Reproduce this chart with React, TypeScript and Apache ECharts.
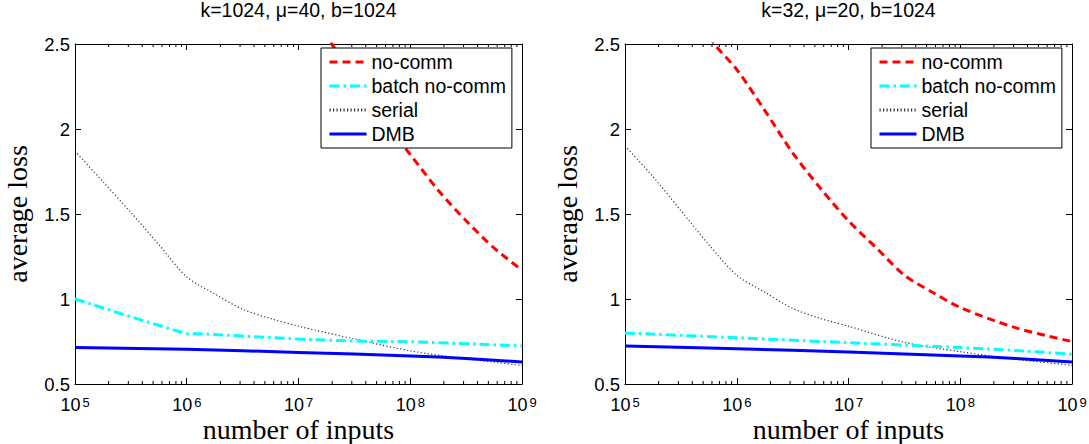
import React, { useEffect, useRef } from "react";
import * as echarts from "echarts";

// ---------- data (x as log10 of number of inputs) ----------
const panelTitles = ["k=1024, \u03bc=40, b=1024", "k=32, \u03bc=20, b=1024"];
const seriesNames = ["no-comm", "batch no-comm", "serial", "DMB"];
const yTicks = [0.5, 1, 1.5, 2, 2.5];
const decadeExps = [5, 6, 7, 8, 9];
const minorMultipliers = [2, 3, 4, 5, 6, 7, 8, 9];

// left panel: k=1024, mu=40
const noCommLeftX = [6.75, 7.0, 7.3, 7.5, 7.75, 8.0, 8.25, 8.5, 8.75, 9.0];
const noCommLeftY = [3.1, 2.84, 2.5, 2.29, 2.06, 1.85, 1.64, 1.46, 1.3, 1.17];
const batchLeftX = [5, 5.5, 6.0, 6.15, 6.5, 7.0, 7.5, 8.0, 8.5, 9.0];
const batchLeftY = [1.0, 0.895, 0.795, 0.795, 0.782, 0.764, 0.753, 0.749, 0.737, 0.724];
const serialLeftX = [5, 5.25, 5.5, 5.75, 6.0, 6.25, 6.5, 6.75, 7.0, 7.5, 8.0, 8.5, 9.0];
const serialLeftY = [1.87, 1.69, 1.51, 1.32, 1.13, 1.03, 0.94, 0.885, 0.84, 0.765, 0.695, 0.648, 0.61];
const dmbLeftX = [5, 6, 7, 8, 8.5, 9];
const dmbLeftY = [0.714, 0.704, 0.686, 0.665, 0.65, 0.63];

// right panel: k=32, mu=20
const noCommRightX = [5.5, 5.8, 6.0, 6.25, 6.5, 6.75, 7.0, 7.25, 7.5, 7.75, 8.0, 8.5, 9.0];
const noCommRightY = [2.8, 2.5, 2.35, 2.11, 1.86, 1.65, 1.46, 1.3, 1.14, 1.04, 0.95, 0.83, 0.75];
const batchRightX = [5, 6, 7, 8, 8.5, 9];
const batchRightY = [0.8, 0.772, 0.743, 0.714, 0.697, 0.675];
const serialRightX = [5, 5.25, 5.5, 5.75, 6.0, 6.25, 6.5, 6.75, 7.0, 7.5, 8.0, 8.5, 9.0];
const serialRightY = [1.9, 1.72, 1.52, 1.32, 1.14, 1.04, 0.945, 0.885, 0.84, 0.745, 0.69, 0.645, 0.61];
const dmbRightX = [5, 6, 7, 8, 8.5, 9];
const dmbRightY = [0.724, 0.707, 0.688, 0.665, 0.65, 0.629];

const panels = [
  {
    noComm: [noCommLeftX, noCommLeftY],
    batch: [batchLeftX, batchLeftY],
    serial: [serialLeftX, serialLeftY],
    dmb: [dmbLeftX, dmbLeftY],
  },
  {
    noComm: [noCommRightX, noCommRightY],
    batch: [batchRightX, batchRightY],
    serial: [serialRightX, serialRightY],
    dmb: [dmbRightX, dmbRightY],
  },
];

const SANS = "'Liberation Sans', Arial, Helvetica, sans-serif";
const SERIF = "'Liberation Serif', 'Times New Roman', serif";

function toPairs(xs: number[], ys: number[]) {
  return xs.map((e, i) => [Math.pow(10, e), ys[i]]);
}

const minorTickValues: number[] = [];
decadeExps.slice(0, -1).forEach((e) => {
  minorMultipliers.forEach((m) => minorTickValues.push(m * Math.pow(10, e)));
});

export default function App() {
  const ref = useRef<HTMLDivElement>(null);
  useEffect(() => {
    if (!ref.current) return;
    const chart = echarts.init(ref.current, undefined, { renderer: "svg" });
    const gridLefts = [75, 625];
    const grids = gridLefts.map((l) => ({
      left: l,
      top: 44,
      width: 447,
      height: 340,
      containLabel: false,
      outerBoundsMode: "none",
    }));

    const xAxes: any[] = [];
    const yAxes: any[] = [];
    const series: any[] = [];
    const titles: any[] = [];
    const legends: any[] = [];

    gridLefts.forEach((l, gi) => {
      const xBase = {
        type: "log",
        logBase: 10,
        min: Math.pow(10, decadeExps[0]),
        max: Math.pow(10, decadeExps[decadeExps.length - 1]),
        gridIndex: gi,
        splitLine: { show: false },
        axisLine: { show: true, lineStyle: { color: "#000", width: 1 } },
        axisTick: { show: true, inside: true, length: 6, lineStyle: { color: "#000" } },
        minorTick: { show: false },
      };
      xAxes.push({
        ...xBase,
        position: "bottom",
        name: "number of inputs",
        nameLocation: "middle",
        nameGap: 37,
        nameMoveOverlap: false,
        nameTextStyle: { fontFamily: SERIF, fontSize: 28, color: "#000", lineHeight: 16 },
        axisLabel: {
          show: true,
          margin: 12,
          formatter: (v: number) => `{b|10}{s|${Math.round(Math.log10(v))}}`,
          rich: {
            b: { fontFamily: SANS, fontSize: 18, color: "#000", lineHeight: 18, verticalAlign: "bottom" },
            s: { fontFamily: SANS, fontSize: 13, color: "#000", lineHeight: 2, verticalAlign: "top", padding: [0, 0, 0, 2] },
          },
        },
      });
      xAxes.push({ ...xBase, position: "top", axisLabel: { show: false } });

      const yBase = {
        type: "value",
        min: yTicks[0],
        max: yTicks[yTicks.length - 1],
        interval: 0.5,
        gridIndex: gi,
        splitLine: { show: false },
        axisLine: { show: true, lineStyle: { color: "#000", width: 1 } },
        axisTick: { show: true, inside: true, length: 6, lineStyle: { color: "#000" } },
      };
      yAxes.push({
        ...yBase,
        position: "left",
        name: "average loss",
        nameLocation: "middle",
        nameGap: 44,
        nameTextStyle: { fontFamily: SERIF, fontSize: 28, color: "#000" },
        axisLabel: { show: true, margin: 5, fontFamily: SANS, fontSize: 18.5, color: "#000" },
      });
      yAxes.push({ ...yBase, position: "right", axisLabel: { show: false } });

      const xi = gi * 2;
      const yi = gi * 2;
      const p = panels[gi];
      series.push(
        {
          name: seriesNames[2],
          type: "line",
          xAxisIndex: xi,
          yAxisIndex: yi,
          symbol: "none",
          smooth: 0.3,
          data: toPairs(p.serial[0], p.serial[1]),
          lineStyle: { color: "#333", width: 1.2, type: [1.2, 2.3] },
          itemStyle: { color: "#333" },
        },
        {
          name: seriesNames[3],
          type: "line",
          xAxisIndex: xi,
          yAxisIndex: yi,
          symbol: "none",
          smooth: 0.3,
          data: toPairs(p.dmb[0], p.dmb[1]),
          lineStyle: { color: "#0000ff", width: 3, type: "solid" },
          itemStyle: { color: "#0000ff" },
        },
        {
          name: seriesNames[1],
          type: "line",
          xAxisIndex: xi,
          yAxisIndex: yi,
          symbol: "none",
          smooth: gi === 0 ? 0 : 0.3,
          data: toPairs(p.batch[0], p.batch[1]),
          lineStyle: { color: "#00ffff", width: 3, type: [10, 4, 2.5, 4] },
          itemStyle: { color: "#00ffff" },
        },
        {
          name: seriesNames[0],
          type: "line",
          xAxisIndex: xi,
          yAxisIndex: yi,
          symbol: "none",
          smooth: 0.3,
          data: toPairs(p.noComm[0], p.noComm[1]),
          lineStyle: { color: "#ff0000", width: 3, type: [8, 5] },
          itemStyle: { color: "#ff0000" },
        },
        {
          type: "custom",
          xAxisIndex: xi,
          yAxisIndex: yi,
          silent: true,
          data: minorTickValues.map((v) => [v, yTicks[0]]),
          renderItem: (params: any, api: any) => {
            const x = api.value(0);
            const pb = api.coord([x, yTicks[0]]);
            const pt = api.coord([x, yTicks[yTicks.length - 1]]);
            return {
              type: "group",
              children: [
                { type: "line", shape: { x1: pb[0], y1: pb[1], x2: pb[0], y2: pb[1] - 3 }, style: { stroke: "#000", lineWidth: 1 } },
                { type: "line", shape: { x1: pt[0], y1: pt[1], x2: pt[0], y2: pt[1] + 3 }, style: { stroke: "#000", lineWidth: 1 } },
              ],
            };
          },
        }
      );

      titles.push({
        text: panelTitles[gi],
        left: l + 447 / 2,
        textAlign: "center",
        top: 0,
        padding: 0,
        textStyle: { fontFamily: SANS, fontSize: 19.5, fontWeight: "normal", color: "#000" },
      });

      legends.push({
        data: seriesNames,
        orient: "vertical",
        left: l + 246,
        top: 48,
        selectedMode: false,
        itemWidth: 37,
        itemHeight: 14,
        itemGap: 4,
        padding: [4, 6, 4, 7],
        borderColor: "#000",
        borderWidth: 1,
        backgroundColor: "#fff",
        itemStyle: { opacity: 0, borderWidth: 0 },
        lineStyle: { width: 3 },
        textStyle: { fontFamily: SANS, fontSize: 19.5, color: "#000", lineHeight: 20 },
      });
    });

    chart.setOption({
      animation: false,
      backgroundColor: "#fff",
      title: titles,
      legend: legends,
      grid: grids,
      xAxis: xAxes,
      yAxis: yAxes,
      series,
    });
    return () => chart.dispose();
  }, []);
  return (
    <div
      ref={ref}
      style={{ position: "absolute", left: 0, top: 0, width: 1089, height: 444, background: "#fff" }}
    />
  );
}
